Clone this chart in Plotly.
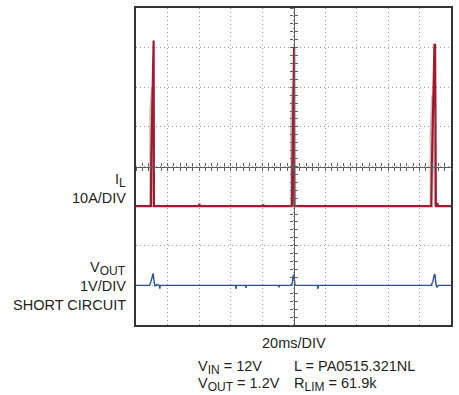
import plotly.graph_objects as go

# Scope capture: inductor current and output voltage during a hard short
# 20 ms/div, 10 divisions across; 8 divisions vertically (-4..+4 div)

# Inductor current I_L (A) vs time (ms); 10 A/div, zero at -1 div
il_t = [0, 9.3, 9.5, 9.7, 10.4, 10.9, 11.2, 11.4, 11.6, 40.0, 40.2, 40.5,
        80.6, 80.8, 81.1, 98.8, 99.0, 99.3, 99.8, 100.1, 100.4, 100.6,
        187.3, 187.5, 187.8, 188.7, 189.5, 189.9, 190.1, 190.4, 191.0, 191.3, 191.7, 200]
il_a = [0, 0, 0, 12.0, 31.0, 41.8, 41.8, 0, 0, 0, 0.6, 0,
        0, 0.4, 0, 0, 0, 10.0, 31.0, 40.2, 40.2, 0,
        0, 0, 9.0, 30.0, 40.7, 40.7, 0, 0, 0, 0.8, 0, 0]

# Faint persistence trace along the rising edges (A); None breaks the line
ilg_t = [9.2, 9.2, 10.3, 11.3, None, 98.7, 98.7, 99.6, 100.5, None, 187.2, 187.2, 188.2, 190.0]
ilg_a = [0, 24.0, 30.0, 0, None, 0, 21.0, 30.0, 0, None, 0, 19.0, 28.0, 0]

# Output voltage V_OUT (V) vs time (ms); 1 V/div, zero at -3 div
vo_t = [0, 8.6, 9.5, 10.3, 10.9, 11.4, 12.0, 13.2, 14.8, 15.1, 15.5,
        63.2, 63.5, 63.9, 69.5, 69.8, 70.2, 90.5, 90.8, 91.2,
        98.2, 99.2, 99.9, 100.4, 101.0, 101.7, 115.2, 115.5, 115.9,
        187.4, 188.5, 189.3, 189.8, 190.4, 191.0, 192.0, 200]
vo_v = [0, 0, 0.10, 0.24, 0.30, 0.12, -0.02, 0.02, 0, -0.08, 0,
        0, -0.09, 0, 0, -0.06, 0, 0, -0.05, 0,
        0, 0.06, 0.27, 0.20, 0.0, 0, 0, -0.09, 0,
        0, 0.10, 0.26, 0.28, 0.04, -0.05, 0, 0]

IL_SCALE, IL_ZERO = 10.0, -1.0
VO_SCALE, VO_ZERO = 1.0, -3.0

il_div = [IL_ZERO + a / IL_SCALE for a in il_a]
ilg_div = [None if a is None else IL_ZERO + a / IL_SCALE for a in ilg_a]
vo_div = [VO_ZERO + v / VO_SCALE for v in vo_v]

RED = "#a3192f"
BLUE = "#2b4f9e"
GRID = "#9a9a9a"
AX = "#5f5f5f"
TXT = "#231f20"
FONT = "Liberation Sans, Arial, sans-serif"
FS = 14.5


def sub(s):
    # subscripts drawn close to full text size
    return "<sub><span style='font-size:12px'>%s</span></sub>" % s


fig = go.Figure()
fig.add_trace(go.Scatter(x=ilg_t, y=ilg_div, mode="lines", connectgaps=False,
                         line=dict(color="rgba(150,140,140,0.55)", width=2.5),
                         hoverinfo="skip", showlegend=False))
fig.add_trace(go.Scatter(x=il_t, y=il_div, mode="lines",
                         line=dict(color=RED, width=2.2),
                         name="I_L", showlegend=False))
fig.add_trace(go.Scatter(x=vo_t, y=vo_div, mode="lines",
                         line=dict(color=BLUE, width=1.4),
                         name="V_OUT", showlegend=False))
# carriers for the centre graticule axes
fig.add_trace(go.Scatter(x=[None], y=[None], xaxis="x2", yaxis="y2",
                         showlegend=False, hoverinfo="skip"))
fig.add_trace(go.Scatter(x=[None], y=[None], xaxis="x3", yaxis="y3",
                         showlegend=False, hoverinfo="skip"))

grid_common = dict(showgrid=True, gridcolor=GRID, griddash="1px,3px", gridwidth=1,
                   zeroline=False, showticklabels=False, ticks="",
                   showline=True, mirror=True, linecolor="#333333", linewidth=2)
centre_common = dict(showgrid=False, zeroline=False, showticklabels=False,
                     showline=True, linecolor=AX, linewidth=1.3,
                     ticklen=3, tickwidth=1.3, tickcolor=AX, anchor="free", position=0.5)

fig.update_layout(
    width=459, height=395,
    margin=dict(l=136, r=6, t=8, b=70),
    paper_bgcolor="white", plot_bgcolor="white",
    font=dict(family=FONT, size=FS, color=TXT),
    xaxis=dict(range=[0, 200], dtick=20, tick0=0, **grid_common),
    yaxis=dict(range=[-4, 4], dtick=1, tick0=0, **grid_common),
    xaxis2=dict(range=[0, 200], overlaying="x", ticks="outside", dtick=4, tick0=0,
                **centre_common),
    xaxis3=dict(range=[0, 200], overlaying="x", ticks="inside", dtick=4, tick0=0,
                **centre_common),
    yaxis2=dict(range=[-4, 4], overlaying="y", ticks="outside", dtick=0.2, tick0=0,
                **centre_common),
    yaxis3=dict(range=[-4, 4], overlaying="y", ticks="inside", dtick=0.2, tick0=0,
                **centre_common),
)

# paper-coordinate helpers for the plot frame (136..453 px, 8..325 px)
def px(xp):
    return (xp - 136) / 317.0

def py(yp):
    return (325 - yp) / 317.0

labels = [
    ("I" + sub("L"), 128, 180, "right"),
    ("10A/DIV", 128, 198, "right"),
    ("V" + sub("OUT"), 128, 268, "right"),
    ("1V/DIV", 128, 286, "right"),
    ("SHORT CIRCUIT", 128, 305, "right"),
    ("20ms/DIV", 294.5, 343, "center"),
    ("V" + sub("IN") + " = 12V", 196, 367, "left"),
    ("V" + sub("OUT") + " = 1.2V", 196, 384, "left"),
    ("L = PA0515.321NL", 293, 366, "left"),
    ("R" + sub("LIM") + " = 61.9k", 293, 384, "left"),
]
for text, xp, yp, anchor in labels:
    fig.add_annotation(text=text, x=px(xp), y=py(yp), xref="paper", yref="paper",
                       xanchor=anchor, yanchor="middle", showarrow=False,
                       font=dict(family=FONT, size=FS, color=TXT))

fig.write_html("out.html")
